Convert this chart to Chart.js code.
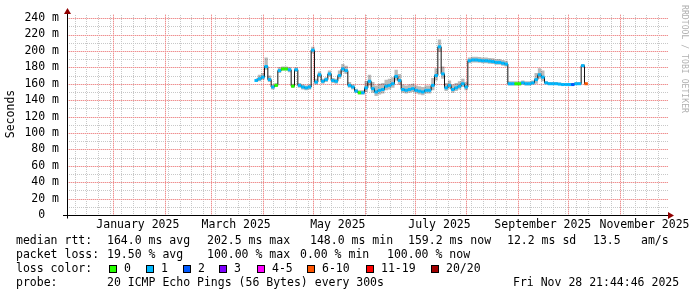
<!DOCTYPE html>
<html>
<head>
<meta charset="utf-8">
<script src="https://cdn.jsdelivr.net/npm/chart.js@4.4.1/dist/chart.umd.min.js"></script>
<style>
  html, body { margin: 0; padding: 0; background: #fff; }
  #wrap { width: 697px; height: 297px; }
</style>
</head>
<body>
<div id="wrap"><canvas id="smokeChart" width="697" height="297"></canvas></div>
<script>
// samples: one every 2 days starting 2025-03-28
const sampleStart = [2025, 3, 28];
const sampleStepDays = 2;

// median rtt in ms
const medianRtt = [
  164, 166, 168, 181, 165, 156, 158, 176, 178, 178,
  177, 157, 177, 158, 156, 155, 156, 201, 162, 171,
  163, 165, 172, 164, 163, 170, 178, 176, 158, 156,
  151, 149, 149, 155, 163, 154, 150, 152, 153, 157,
  158, 160, 169, 164, 153, 152, 153, 154, 152, 151,
  150, 152, 152, 158, 170, 205, 172, 155, 158, 153,
  155, 157, 160, 156, 188, 189, 189, 188.5, 188, 188,
  187.5, 187, 186, 186, 185, 184, 160, 160, 160, 160,
  161, 160, 160, 161, 165, 171, 168, 161, 160, 160,
  160, 159.5, 159, 159, 159, 159, 160, 160, 182, 160
];
// smoke spread above / below the median (ms)
const smokeAbove = [
  3, 5, 5, 11, 5, 3, 3, 4, 3, 3,
  3, 3, 3, 3, 3, 3, 3, 4, 4, 4,
  3, 3, 4, 3, 3, 6, 6, 6, 4, 3,
  3, 3, 3, 8, 8, 8, 8, 8, 8, 8,
  8, 8, 8, 8, 6, 6, 6, 6, 6, 6,
  6, 6, 6, 9, 9, 9, 9, 6, 6, 6,
  6, 6, 6, 6, 4, 4, 4, 4, 4, 4,
  4, 4, 4, 4, 4, 4, 3, 3, 3, 3,
  3, 3, 3, 3, 8, 8, 8, 2, 2, 2,
  2, 2, 2, 2, 2, 2, 2, 2, 2, 2
];
const smokeBelow = [
  2, 3, 3, 4, 3, 3, 2, 3, 2, 2,
  3, 2, 2, 3, 3, 3, 3, 4, 3, 3,
  3, 3, 3, 3, 3, 4, 4, 4, 3, 3,
  2, 2, 2, 5, 5, 5, 5, 5, 5, 5,
  5, 5, 5, 5, 4, 4, 4, 4, 4, 4,
  4, 4, 4, 6, 6, 6, 6, 4, 4, 4,
  4, 4, 4, 4, 3, 3, 3, 3, 3, 3,
  3, 3, 3, 3, 3, 3, 2, 2, 2, 2,
  2, 2, 2, 2, 5, 5, 5, 1, 1, 1,
  1, 1, 1, 1, 1, 1, 1, 1, 1, 1
];
// loss bucket index per sample (index into lossLabels)
const sampleLoss = [
  1, 1, 1, 1, 1, 1, 0, 1, 0, 0,
  1, 0, 1, 1, 1, 1, 1, 1, 1, 1,
  1, 1, 1, 1, 1, 1, 1, 1, 1, 1,
  1, 0, 1, 1, 1, 1, 1, 1, 1, 1,
  1, 1, 1, 1, 1, 1, 1, 1, 1, 1,
  1, 1, 1, 1, 1, 1, 1, 1, 1, 1,
  1, 1, 1, 1, 1, 1, 1, 1, 1, 1,
  1, 1, 1, 1, 1, 1, 1, 1, 0, 0,
  1, 1, 1, 1, 1, 1, 1, 1, 1, 1,
  1, 1, 1, 1, 1, 2, 1, 1, 1, 5
];

const lossLabels = ['0', '1', '2', '3', '4-5', '6-10', '11-19', '20/20'];
const lossColors = ['#26ff00', '#00b8ff', '#0059ff', '#7e00ff', '#ff00ff', '#ff5500', '#ff0000', '#a00000'];

const yTicks = [0, 10, 20, 30, 40, 50, 60, 70, 80, 90, 100, 110, 120, 130, 140, 150, 160, 170, 180, 190, 200, 210, 220, 230, 240];
const monthLabels = ['January 2025', 'March 2025', 'May 2025', 'July 2025', 'September 2025', 'November 2025'];
const monthLabelMonths = [1, 3, 5, 7, 9, 11];

const statLines = [
  [[16, 'median rtt:'], [107, '164.0 ms avg'], [207, '202.5 ms max'], [310, '148.0 ms min'], [408, '159.2 ms now'], [507, '12.2 ms sd'], [593, '13.5'], [641, 'am/s']],
  [[16, 'packet loss:'], [107, '19.50 % avg'], [207, '100.00 % max'], [300, '0.00 % min'], [387, '100.00 % now']],
  [[16, 'loss color:']],
  [[16, 'probe:'], [107, '20 ICMP Echo Pings (56 Bytes) every 300s'], [513, 'Fri Nov 28 21:44:46 2025']]
];
const lossBoxX = [109, 146, 183, 219, 257, 307, 366, 431];

// days relative to 2025-01-01
const dayOf = (y, m, d) => (Date.UTC(y, m - 1, d) - Date.UTC(2025, 0, 1)) / 86400000;
const xMin = -27.5, xMax = 332.5;

const firstDay = dayOf(...sampleStart);
const sampleDays = medianRtt.map((_, i) => firstDay + i * sampleStepDays);

const monthStarts = [];
for (let m = 1; m <= 12; m++) {
  const d = dayOf(2025, m, 1);
  if (d >= xMin && d <= xMax) monthStarts.push(d);
}
const monthSet = new Set(monthStarts);
const weekLines = [];
for (let d = dayOf(2024, 12, 9); d <= xMax; d += 7) {
  if (d >= xMin && !monthSet.has(d)) weekLines.push(d);
}
const labelDays = monthLabelMonths.map(m => dayOf(2025, m, 1) + 15);

const MONO = '"DejaVu Sans Mono", monospace';
const MAJOR_LINE = '#f8d2d2';
const MAJOR_DOT = '#ef9090';
const MINOR = '#c8c8c8';

const upper = medianRtt.map((v, i) => ({ x: sampleDays[i], y: v + smokeAbove[i] }));
const lower = medianRtt.map((v, i) => ({ x: sampleDays[i], y: v - smokeBelow[i] }));
const median = medianRtt.map((v, i) => ({ x: sampleDays[i], y: v }));

// dotted rrdtool style grid, placed through the chart's scales
const rrdGrid = {
  id: 'rrdGrid',
  beforeDatasetsDraw(chart) {
    const { ctx, chartArea: a } = chart;
    const x = chart.scales.x, y = chart.scales.y;
    const top = Math.round(a.top), bottom = Math.round(a.bottom);
    const left = Math.round(a.left), right = Math.round(a.right);
    ctx.save();
    const vline = (d, col, base) => {
      const px = Math.round(x.getPixelForValue(d));
      if (base) { ctx.fillStyle = base; ctx.fillRect(px, top, 1, bottom - top); }
      ctx.fillStyle = col;
      for (let py = bottom - 2; py >= top; py -= 2) ctx.fillRect(px, py, 1, 1);
    };
    const hline = (v, col, base) => {
      const py = Math.round(y.getPixelForValue(v));
      if (base) { ctx.fillStyle = base; ctx.fillRect(left, py, right - left, 1); }
      ctx.fillStyle = col;
      for (let px = left + 2; px <= right; px += 2) ctx.fillRect(px, py, 1, 1);
    };
    weekLines.forEach(d => vline(d, MINOR));
    yTicks.filter(v => v % 20 !== 0).forEach(v => hline(v, MINOR));
    monthStarts.forEach(d => vline(d, MAJOR_DOT, MAJOR_LINE));
    yTicks.filter(v => v % 20 === 0 && v > 0).forEach(v => hline(v, MAJOR_DOT, MAJOR_LINE));
    ctx.restore();
  }
};

const decorations = {
  id: 'decorations',
  afterDraw(chart) {
    const ctx = chart.ctx;
    const y = chart.scales.y;
    const y0 = Math.round(y.getPixelForValue(0)) + 0.5;
    const x0 = Math.round(chart.chartArea.left) + 0.5;
    ctx.save();
    // axes
    ctx.strokeStyle = '#000';
    ctx.lineWidth = 1;
    ctx.beginPath();
    ctx.moveTo(63, y0); ctx.lineTo(670, y0);
    ctx.moveTo(x0, y0 + 3); ctx.lineTo(x0, 13);
    ctx.stroke();
    ctx.fillStyle = '#900000';
    ctx.beginPath();
    ctx.moveTo(668, y0 - 3.5); ctx.lineTo(674, y0); ctx.lineTo(668, y0 + 3.5); ctx.closePath();
    ctx.fill();
    ctx.beginPath();
    ctx.moveTo(x0 - 3.5, 14); ctx.lineTo(x0, 8); ctx.lineTo(x0 + 3.5, 14); ctx.closePath();
    ctx.fill();

    // legend text
    ctx.font = '11.5px ' + MONO;
    ctx.fillStyle = '#000';
    ctx.textBaseline = 'middle';
    ctx.textAlign = 'left';
    const rowY = [241, 255, 269, 283];
    statLines.forEach((row, r) => row.forEach(([tx, t]) => ctx.fillText(t, tx, rowY[r])));
    lossLabels.forEach((lab, i) => {
      ctx.fillStyle = lossColors[i];
      ctx.fillRect(lossBoxX[i], 265, 8, 8);
      ctx.strokeStyle = '#000';
      ctx.strokeRect(lossBoxX[i] + 0.5, 265.5, 7, 7);
      ctx.fillStyle = '#000';
      ctx.fillText(lab, lossBoxX[i] + 15, rowY[2]);
    });

    // y title
    ctx.save();
    ctx.translate(11, 114);
    ctx.rotate(-Math.PI / 2);
    ctx.textAlign = 'center';
    ctx.fillText('Seconds', 0, 0);
    ctx.restore();

    // watermark
    ctx.save();
    ctx.translate(684, 5);
    ctx.rotate(Math.PI / 2);
    ctx.font = '8px ' + MONO;
    const mark = 'RRDTOOL / TOBI OETIKER';
    const w = ctx.measureText(mark).width;
    ctx.scale(108 / w, 1);
    ctx.fillStyle = '#b0b0b0';
    ctx.textAlign = 'left';
    ctx.fillText(mark, 0, 0);
    ctx.restore();
    ctx.restore();
  }
};

new Chart(document.getElementById('smokeChart'), {
  type: 'line',
  data: {
    datasets: [
      {
        label: 'loss',
        data: median,
        order: 0,
        showLine: false,
        pointStyle: 'line',
        pointRadius: 1.7,
        pointBorderWidth: 3,
        pointBorderColor: sampleLoss.map(l => lossColors[l]),
        pointBackgroundColor: sampleLoss.map(l => lossColors[l])
      },
      {
        label: 'median',
        data: median,
        order: 1,
        stepped: 'middle',
        borderColor: '#111',
        borderWidth: 1,
        pointRadius: 0
      },
      {
        label: 'smoke hi',
        data: upper,
        order: 2,
        stepped: 'middle',
        borderWidth: 0,
        pointRadius: 0,
        backgroundColor: 'rgba(40,40,40,0.32)',
        fill: '+1'
      },
      {
        label: 'smoke lo',
        data: lower,
        order: 3,
        stepped: 'middle',
        borderWidth: 0,
        pointRadius: 0,
        fill: false
      }
    ]
  },
  options: {
    responsive: false,
    animation: false,
    devicePixelRatio: 1,
    events: [],
    layout: { padding: { left: 0, top: 14, right: 30, bottom: 0 } },
    plugins: { legend: { display: false }, tooltip: { enabled: false } },
    scales: {
      x: {
        type: 'linear', position: 'bottom', min: xMin, max: xMax,
        grid: { display: false, drawTicks: false },
        border: { display: false },
        ticks: {
          autoSkip: false, maxRotation: 0, minRotation: 0, padding: 3,
          color: '#000', font: { family: MONO, size: 11.5 },
          callback: (v, i) => monthLabels[i]
        },
        afterBuildTicks: s => { s.ticks = labelDays.map(v => ({ value: v })); },
        afterFit: s => { s.height = 82; s.paddingLeft = 0; s.paddingRight = 0; }
      },
      y: {
        type: 'linear', min: 0, max: 245,
        grid: { display: false, drawTicks: false },
        border: { display: false },
        ticks: {
          autoSkip: false, padding: 8, color: '#000', font: { family: MONO, size: 11.5 },
          callback: v => v % 20 !== 0 ? '' : (v === 0 ? '0  ' : v + ' m')
        },
        afterBuildTicks: s => { s.ticks = yTicks.map(v => ({ value: v })); },
        afterFit: s => { s.width = 67; s.paddingTop = 0; s.paddingBottom = 0; }
      }
    }
  },
  plugins: [rrdGrid, decorations]
});
</script>
</body>
</html>
